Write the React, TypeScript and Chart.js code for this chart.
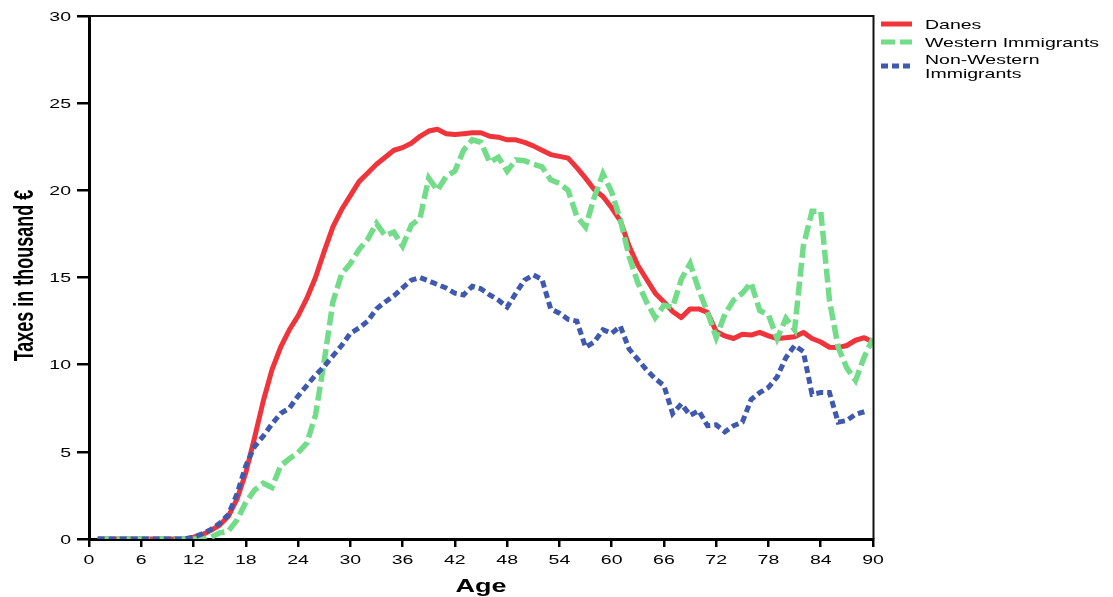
import React, { useEffect, useRef } from "react";
import { Chart, registerables } from "chart.js";

Chart.register(...registerables);

const ages = [
  1, 2, 3, 4, 5, 6, 7, 8, 9, 10, 11, 12, 13, 14, 15, 16, 17, 18, 19, 20,
  21, 22, 23, 24, 25, 26, 27, 28, 29, 30, 31, 32, 33, 34, 35, 36, 37, 38, 39, 40,
  41, 42, 43, 44, 45, 46, 47, 48, 49, 50, 51, 52, 53, 54, 55, 56, 57, 58, 59, 60,
  61, 62, 63, 64, 65, 66, 67, 68, 69, 70, 71, 72, 73, 74, 75, 76, 77, 78, 79, 80,
  81, 82, 83, 84, 85, 86, 87, 88, 89, 90,
];

const danes = [
  0, 0, 0, 0, 0, 0, 0, 0, 0, 0, 0, 0.1, 0.25, 0.5, 0.8, 1.3, 2.3, 3.8, 5.8, 7.9,
  9.7, 11.0, 12.0, 12.8, 13.8, 15.0, 16.5, 17.9, 18.9, 19.7, 20.5, 21.0, 21.5, 21.9, 22.3, 22.45, 22.7, 23.1, 23.4, 23.5,
  23.25, 23.2, 23.25, 23.3, 23.3, 23.1, 23.05, 22.9, 22.9, 22.75, 22.55, 22.3, 22.05, 21.95, 21.85, 21.3, 20.7, 20.05, 19.65, 19.0,
  18.25, 16.8, 15.7, 14.9, 14.1, 13.6, 13.05, 12.7, 13.2, 13.2, 13.0, 11.9, 11.65, 11.5, 11.75, 11.7, 11.85, 11.65, 11.5, 11.55,
  11.6, 11.85, 11.5, 11.3, 11.0, 10.98, 11.1, 11.4, 11.55, 11.3,
];

const western = [
  0, 0, 0, 0, 0, 0, 0, 0, 0, 0, 0, 0, 0, 0.1, 0.35, 0.45, 1.1, 2.1, 2.8, 3.2,
  2.95, 4.2, 4.6, 4.95, 5.5, 7.1, 10.2, 13.6, 15.2, 15.8, 16.6, 17.2, 18.1, 17.4, 17.6, 16.8, 18.0, 18.4, 20.7, 20.0,
  20.8, 21.1, 22.3, 22.9, 22.75, 21.6, 21.9, 21.1, 21.75, 21.7, 21.5, 21.35, 20.6, 20.4, 20.0, 18.5, 17.9, 19.6, 20.95, 19.9,
  18.3, 16.2, 14.7, 13.6, 12.7, 13.4, 13.3, 14.9, 15.8, 14.3, 13.0, 11.55, 12.9, 13.7, 14.1, 14.7, 13.1, 12.85, 11.5, 12.65,
  12.0, 16.8, 18.8, 18.8, 13.7, 11.0, 9.8, 9.1, 10.45, 11.5,
];

const nonWestern = [
  0, 0, 0, 0, 0, 0, 0, 0, 0, 0, 0, 0.1, 0.3, 0.55, 0.9, 1.4, 2.6, 4.2, 5.3, 5.9,
  6.6, 7.2, 7.5, 8.2, 8.8, 9.4, 9.9, 10.5, 11.1, 11.8, 12.1, 12.5, 13.2, 13.6, 13.95, 14.4, 14.85, 15.0, 14.8, 14.6,
  14.4, 14.1, 14.0, 14.5, 14.35, 14.0, 13.7, 13.3, 14.1, 14.85, 15.15, 14.9, 13.2, 12.95, 12.6, 12.5, 11.0, 11.3, 12.0, 11.8,
  12.2, 10.9, 10.3, 9.7, 9.2, 8.8, 7.2, 7.75, 7.1, 7.35, 6.5, 6.55, 6.15, 6.5, 6.7, 8.0, 8.4, 8.7, 9.3, 10.4,
  11.1, 10.75, 8.3, 8.4, 8.4, 6.7, 6.8, 7.15, 7.3, null,
];

const xTickValues = [0, 6, 12, 18, 24, 30, 36, 42, 48, 54, 60, 66, 72, 78, 84, 90];
const yTickValues = [0, 5, 10, 15, 20, 25, 30];

const seriesNames = ["Danes", "Western Immigrants", ["Non-Western", "Immigrants"]];
const xTitle = "Age";
const yTitle = "Taxes in thousand €";

const RED = "#ef343b";
const GREEN = "#72dc88";
const BLUE = "#3e59ad";

const FONT = '"Liberation Sans", Arial, Helvetica, sans-serif';
const SX = 1.5;

function stretchedText(
  ctx: CanvasRenderingContext2D,
  text: string,
  x: number,
  y: number,
  font: string,
  align: CanvasTextAlign,
  rotate = false
) {
  ctx.save();
  ctx.font = font;
  ctx.fillStyle = "#000";
  ctx.textAlign = align;
  ctx.textBaseline = "alphabetic";
  ctx.translate(x, y);
  ctx.scale(SX, 1);
  if (rotate) ctx.rotate(-Math.PI / 2);
  ctx.fillText(text, 0, 0);
  ctx.restore();
}

const decorPlugin = {
  id: "decor",
  afterDraw(chart: any) {
    const ctx: CanvasRenderingContext2D = chart.ctx;
    const ca = chart.chartArea;
    const xs = chart.scales.x;
    const ys = chart.scales.y;

    ctx.save();
    ctx.strokeStyle = "#111";
    ctx.lineWidth = 2;
    ctx.beginPath();
    ctx.moveTo(ca.left, ca.top);
    ctx.lineTo(ca.right + 0.5, ca.top);
    ctx.moveTo(ca.right + 0.5, ca.top - 1);
    ctx.lineTo(ca.right + 0.5, ca.bottom);
    ctx.stroke();
    ctx.restore();

    const tickFont = `13px ${FONT}`;
    xTickValues.forEach((v) => {
      stretchedText(ctx, String(v), xs.getPixelForValue(v), ca.bottom + 25, tickFont, "center");
    });
    yTickValues.forEach((v) => {
      stretchedText(ctx, String(v), ca.left - 18, ys.getPixelForValue(v) + 4.7, tickFont, "right");
    });

    const titleFont = `bold 18px ${FONT}`;
    stretchedText(ctx, xTitle, (ca.left + ca.right) / 2, ca.bottom + 53, titleFont, "center");
    stretchedText(ctx, yTitle, 33, (ca.top + ca.bottom) / 2 - 2, titleFont, "center", true);

    const lx0 = ca.right + 8;
    const lx1 = ca.right + 39;
    const tx = ca.right + 52;
    const legendRows = [
      { lineY: 24, textY: [29.3] },
      { lineY: 42, textY: [46.7] },
      { lineY: 66, textY: [64.3, 77.7] },
    ];
    const legendFont = `13px ${FONT}`;
    chart.data.datasets.forEach((ds: any, i: number) => {
      const row = legendRows[i];
      ctx.save();
      ctx.strokeStyle = ds.borderColor;
      ctx.lineWidth = 5;
      ctx.setLineDash(ds.borderDash || []);
      ctx.beginPath();
      ctx.moveTo(lx0, row.lineY);
      ctx.lineTo(lx1, row.lineY);
      ctx.stroke();
      ctx.restore();
      const name = seriesNames[i];
      const lines = Array.isArray(name) ? name : [name];
      lines.forEach((t, j) => stretchedText(ctx, t, tx, row.textY[j], legendFont, "left"));
    });
  },
};

function toPoints(values: (number | null)[]) {
  return ages.map((a, i) => ({ x: a, y: values[i] }));
}

export default function App() {
  const canvasRef = useRef<HTMLCanvasElement | null>(null);

  useEffect(() => {
    document.body.style.margin = "0";
    const canvas = canvasRef.current;
    if (!canvas) return;
    const chart = new Chart(canvas, {
      type: "line",
      data: {
        datasets: [
          {
            label: "Danes",
            data: toPoints(danes),
            borderColor: RED,
            backgroundColor: RED,
            borderWidth: 5,
            pointRadius: 0,
            tension: 0,
            borderJoinStyle: "round",
            order: 3,
          },
          {
            label: "Western Immigrants",
            data: toPoints(western),
            borderColor: GREEN,
            backgroundColor: GREEN,
            borderWidth: 5.5,
            borderDash: [14, 5],
            pointRadius: 0,
            tension: 0,
            order: 2,
          },
          {
            label: "Non-Western Immigrants",
            data: toPoints(nonWestern),
            borderColor: BLUE,
            backgroundColor: BLUE,
            borderWidth: 5,
            borderDash: [7, 4],
            pointRadius: 0,
            tension: 0,
            spanGaps: false,
            order: 1,
          },
        ],
      },
      options: {
        animation: false,
        responsive: false,
        devicePixelRatio: 1,
        layout: { padding: { top: 16, right: 240, left: 0, bottom: 0 } },
        plugins: {
          legend: { display: false },
          tooltip: { enabled: false },
          title: { display: false },
        },
        scales: {
          x: {
            type: "linear",
            min: 0,
            max: 90,
            afterBuildTicks: (scale: any) => {
              scale.ticks = xTickValues.map((v) => ({ value: v }));
            },
            afterFit: (scale: any) => {
              scale.height = 58;
            },
            ticks: { display: false },
            grid: {
              drawOnChartArea: false,
              drawTicks: true,
              tickLength: 8,
              tickWidth: 2.5,
              tickColor: "#000",
              color: "#000",
              lineWidth: 2.5,
            },
            border: { display: true, color: "#000", width: 3 },
          },
          y: {
            type: "linear",
            min: 0,
            max: 30,
            afterBuildTicks: (scale: any) => {
              scale.ticks = yTickValues.map((v) => ({ value: v }));
            },
            afterFit: (scale: any) => {
              scale.width = 89;
            },
            ticks: { display: false },
            grid: {
              drawOnChartArea: false,
              drawTicks: true,
              tickLength: 12,
              tickWidth: 2.5,
              tickColor: "#000",
              color: "#000",
              lineWidth: 2.5,
            },
            border: { display: true, color: "#000", width: 3 },
          },
        },
      },
      plugins: [decorPlugin],
    } as any);
    return () => chart.destroy();
  }, []);

  return (
    <div style={{ position: "fixed", left: 0, top: 0, width: 1113, height: 597, background: "#fff" }}>
      <canvas ref={canvasRef} width={1113} height={597} style={{ display: "block" }} />
    </div>
  );
}
